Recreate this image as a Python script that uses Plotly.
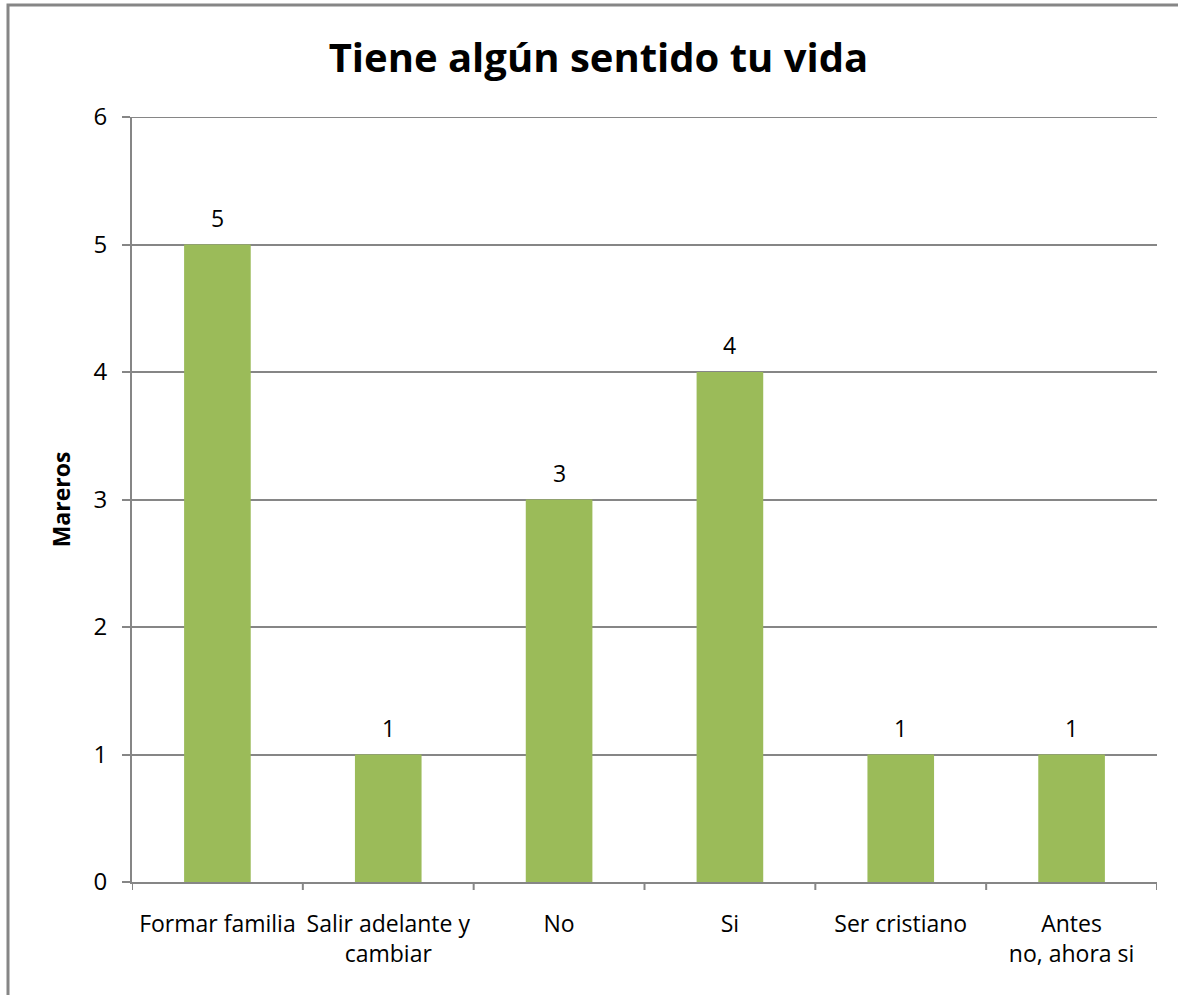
import plotly.graph_objects as go

categories = ["Formar familia", "Salir adelante y<br>cambiar", "No", "Si", "Ser cristiano", "Antes<br>no, ahora si"]
values = [5, 1, 3, 4, 1, 1]
y_ticks = [0, 1, 2, 3, 4, 5, 6]

BAR = "#9BBB59"
GRID = "#868686"
FONT = "Open Sans, Liberation Sans, sans-serif"

L, R, T, B = 132, 21, 117, 113
W, H = 1178, 995
pw, ph = W - L - R, H - T - B

xs = list(range(len(categories)))

fig = go.Figure(go.Bar(
    x=xs,
    y=values,
    marker=dict(color=BAR, line=dict(width=0)),
    width=0.39,
    hoverinfo="x+y",
))

# Value labels above each bar
annotations = [
    dict(x=x, y=v, text=str(v), xref="x", yref="y", showarrow=False,
         yshift=27, font=dict(size=23, color="#000000", family=FONT))
    for x, v in zip(xs, values)
]

fig.update_layout(
    width=W, height=H,
    margin=dict(l=L, r=R, t=T, b=B, pad=0),
    paper_bgcolor="white", plot_bgcolor="white",
    showlegend=False,
    title=dict(text="<b>Tiene algún sentido tu vida</b>", x=0.508, xanchor="center",
               y=1 - 58 / H, yanchor="middle",
               font=dict(size=40, color="#000000", family=FONT)),
    font=dict(family=FONT, color="#000000"),
    annotations=annotations,
)

fig.update_xaxes(
    range=[-0.5, len(categories) - 0.5],
    tickmode="array", tickvals=xs, ticktext=categories,
    tickfont=dict(size=23, color="#000000"),
    ticklabelstandoff=20,
    showline=True, linecolor=GRID, linewidth=2,
    ticks="", showgrid=False, zeroline=False,
)

fig.update_yaxes(
    range=[0, 6], tickmode="array", tickvals=y_ticks,
    tickfont=dict(size=24, color="#000000"),
    ticklabelstandoff=10,
    showline=True, linecolor=GRID, linewidth=2,
    ticks="outside", ticklen=8, tickcolor=GRID, tickwidth=2,
    showgrid=True, gridcolor=GRID, gridwidth=2, zeroline=False,
    title=dict(text="<b>Mareros</b>", font=dict(size=23, color="#000000"), standoff=16),
)

shapes = []
# Top gridline at the axis maximum
shapes.append(dict(type="line", xref="paper", yref="y", x0=0, x1=1, y0=6, y1=6,
                   line=dict(color=GRID, width=2)))
# Category boundary ticks hanging below the x axis
for i in range(len(categories) + 1):
    xb = i - 0.5
    shapes.append(dict(type="line", xref="x", yref="paper", x0=xb, x1=xb,
                       y0=0, y1=-8 / ph, line=dict(color=GRID, width=2)))

# Chart frame (top and left edges visible)
shapes.append(dict(type="rect", xref="paper", yref="paper",
                   x0=(8 - L) / pw, x1=(W + 20 - L) / pw,
                   y0=-(B + 20) / ph, y1=1 + (T - 5) / ph,
                   line=dict(color=GRID, width=3), fillcolor="rgba(0,0,0,0)", layer="below"))

fig.update_layout(shapes=shapes)

fig.write_html("out.html")
